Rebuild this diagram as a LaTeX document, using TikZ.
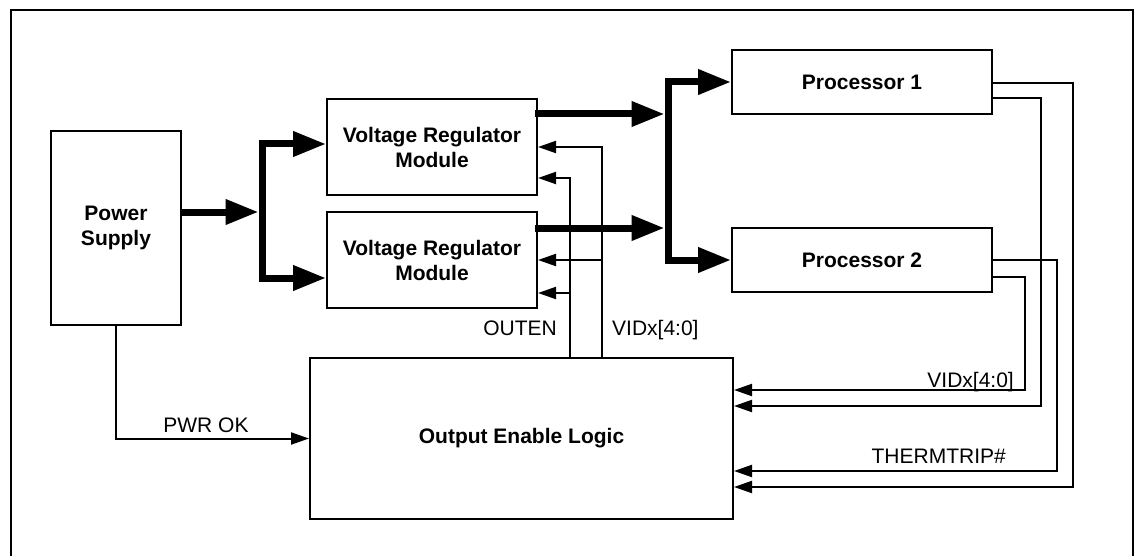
\documentclass[tikz,border=0pt]{standalone}
\usepackage{fontspec}
\setmainfont{Liberation Sans}
\usetikzlibrary{arrows.meta,calc}
\begin{document}
\begin{tikzpicture}[x=1pt,y=-1pt,
  box/.style={draw,line width=2pt,inner sep=0pt,align=center,
    font=\fontsize{21}{25}\selectfont\bfseries},
  bus/.style={line width=7pt,-{Triangle[length=33pt,width=24pt]}},
  busline/.style={line width=7pt},
  sig/.style={line width=2pt,-{Triangle[length=18pt,width=12pt]}},
  sigline/.style={line width=2pt},
  lbl/.style={inner sep=0pt,font=\fontsize{21}{25}\selectfont},
  frame/.style={line width=2.5pt}]
\useasboundingbox (0,0) rectangle (1137,556);
\draw[frame] (11,560) -- (11,10) -- (1133,10) -- (1133,560);

% boxes
\node[box,minimum width=130pt,minimum height=194pt] (ps) at (116,228) {Power\\Supply};
\node[box,minimum width=210pt,minimum height=96pt] (vrm1) at (432,147) {Voltage Regulator\\Module};
\node[box,minimum width=210pt,minimum height=96pt] (vrm2) at (432,260) {Voltage Regulator\\Module};
\node[box,minimum width=260pt,minimum height=64pt] (p1) at (862,82) {Processor 1};
\node[box,minimum width=260pt,minimum height=64pt] (p2) at (862,260) {Processor 2};
\node[box,minimum width=423pt,minimum height=161pt] (oel) at (521.5,438.5) {Output Enable Logic};

% junction coordinates
\coordinate (j1) at (262,212);
\coordinate (j1t) at (262,144);
\coordinate (j1b) at (262,278);
\coordinate (j2) at (668,171);
\coordinate (j2t) at (668,82);
\coordinate (j2b) at (668,260);

% thin signals OEL -> VRMs
\draw[sig] (oel.north -| 570,0) -- (570,178) -- (vrm1.east |- 0,178);
\draw[sig] (570,293) -- (vrm2.east |- 0,293);
\draw[sig] (oel.north -| 602,0) -- (602,147) -- (vrm1.east |- 0,147);
\draw[sig] (602,260) -- (vrm2.east |- 0,260);

% power buses
\draw[bus] (ps.east |- j1) -- ([xshift=-3.5pt]j1);
\draw[bus] (j1) -- (j1t) -- (vrm1.west |- j1t);
\draw[bus] (j1) -- (j1b) -- (vrm2.west |- j1b);
\draw[bus] ([xshift=-3pt]vrm1.east |- 0,114) -- ([xshift=-3.5pt]j2 |- 0,114);
\draw[bus] ([xshift=-3pt]vrm2.east |- 0,228) -- ([xshift=-3.5pt]j2 |- 0,228);
\draw[bus] (j2) -- (j2t) -- (p1.west);
\draw[bus] (j2) -- (j2b) -- (p2.west);

% processor feedback signals
\draw[sig] (p1.east |- 0,83) -- (1073,83) -- (1073,487) -- (oel.east |- 0,487);
\draw[sig] (p1.east |- 0,98) -- (1041,98) -- (1041,406) -- (oel.east |- 0,406);
\draw[sig] (p2.east |- 0,260) -- (1057,260) -- (1057,471) -- (oel.east |- 0,471);
\draw[sig] (p2.east |- 0,277) -- (1025,277) -- (1025,390) -- (oel.east |- 0,390);

% PWR OK
\draw[sig] (ps.south) -- (ps.south |- oel.west) -- (oel.west);

% labels
\node[lbl,anchor=base east] (louten) at (557,335) {OUTEN};
\node[lbl,anchor=base west] (lvid1) at (612,335) {VIDx[4:0]};
\node[lbl,anchor=base east] (lvid2) at (1014,387) {VIDx[4:0]};
\node[lbl,anchor=base east] (ltherm) at (1006,463) {THERMTRIP\#};
\node[lbl,anchor=base] (lpwr) at (206,432) {PWR OK};
\end{tikzpicture}
\end{document}
